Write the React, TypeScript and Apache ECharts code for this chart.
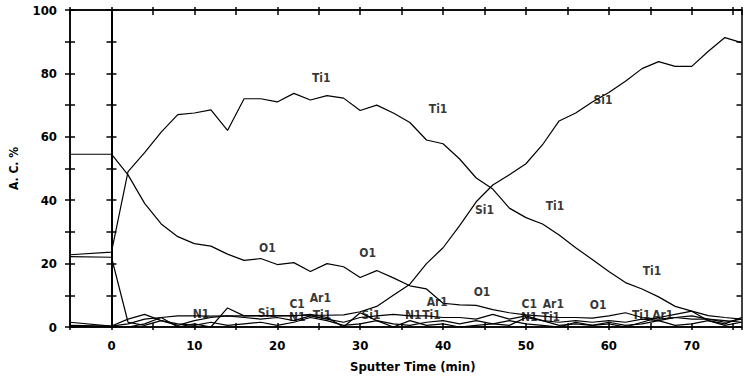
import React, { useEffect, useRef } from "react";
import * as echarts from "echarts";

const times = [-5, 0, 2, 4, 6, 8, 10, 12, 14, 16, 18, 20, 22, 24, 26, 28, 30, 32, 34, 36, 38, 40, 42, 44, 46, 48, 50, 52, 54, 56, 58, 60, 62, 64, 66, 68, 70, 72, 74, 76];

const tiValues = [22.8, 23.6, 49, 55, 61.5, 67, 67.5, 68.5, 62, 72, 72, 71, 73.7, 71.6, 73, 72.2, 68.3, 70, 67.5, 64.5, 59, 57.8, 53, 47, 43.5, 37.5, 34.5, 32.5, 29, 25, 21.3, 17.5, 14, 12, 9.5, 6.5, 5, 3.6, 3, 2.5];
const siValues = [0.5, 0.3, 1, 2.5, 3, 3.5, 3.5, 3.4, 3.5, 3.5, 3.6, 3.6, 3.6, 3.7, 3.7, 3.8, 4.8, 6.5, 10, 13.5, 20, 25, 32, 39.5, 44.8, 48, 51.5, 57.5, 65, 67.5, 71, 74, 77.5, 81.5, 83.7, 82.2, 82.2, 87, 91.3, 89.7];
const oValues = [54.5, 54.5, 48, 39, 32.5, 28.5, 26.3, 25.5, 23, 21, 21.6, 19.7, 20.3, 17.5, 20, 19, 15.6, 17.8, 15.5, 13, 12, 7.5, 7, 6.8, 5.5, 4.5, 3.8, 3.4, 3, 3, 2.8, 3.5, 4.5, 3, 2.5, 3, 3.5, 2.5, 2, 1.5];
const cValues = [22.2, 22, 1.5, 0.5, 2, 1, 0.5, 1.5, 0.5, 1, 1.5, 0.5, 1.5, 3, 2, 0.5, 1, 2, 1, 0.5, 1.5, 2, 1, 2, 1, 0.5, 3, 2, 0.5, 1, 0.5, 1.5, 0.5, 1, 2, 0.5, 1, 2, 0.5, 1.5];
const nValues = [1.5, 0.3, 2.5, 4, 2, 0.5, 2, 3, 3.5, 3, 2.5, 3, 2, 3.5, 2.5, 1.5, 3, 3.5, 4, 3.5, 3.5, 3, 3, 2.5, 4, 2.5, 3.5, 2, 1.5, 2, 1.5, 2, 1.5, 2.5, 2, 3, 2.5, 2.5, 1.5, 2.5];
const arValues = [0.2, 0, 0, 1, 3, 0, 1, 0, 6, 3.5, 3.5, 3.5, 3.5, 4, 3, 0, 4.5, 2, 0, 2, 0.5, 1, 0, 0.5, 1, 2, 1, 0.5, 0, 1.5, 0.5, 1, 0, 1.5, 3, 4, 5, 2, 1, 3];

const curveNames = ["Ti1", "Si1", "O1", "C1", "N1", "Ar1"];
const curveValues = [tiValues, siValues, oValues, cValues, nValues, arValues];

// curve annotations: [time, A.C.%, text]
const annotations: [number, number, string][] = [
  [25.3, 78.4, "Ti1"],
  [39.4, 68.8, "Ti1"],
  [59.3, 71.6, "Si1"],
  [45.0, 36.8, "Si1"],
  [53.5, 38.1, "Ti1"],
  [65.2, 17.8, "Ti1"],
  [18.8, 25, "O1"],
  [30.9, 23.2, "O1"],
  [44.7, 10.9, "O1"],
  [58.7, 6.9, "O1"],
  [10.8, 4.0, "N1"],
  [18.8, 4.4, "Si1"],
  [22.4, 7.2, "C1"],
  [22.4, 3.0, "N1"],
  [25.2, 9.0, "Ar1"],
  [25.4, 3.8, "Ti1"],
  [31.3, 3.8, "Si1"],
  [36.4, 3.8, "N1"],
  [38.6, 3.8, "Ti1"],
  [39.3, 7.8, "Ar1"],
  [50.4, 7.2, "C1"],
  [50.4, 3.0, "N1"],
  [53.3, 7.2, "Ar1"],
  [53.0, 3.0, "Ti1"],
  [63.9, 3.8, "Ti1"],
  [66.5, 3.8, "Ar1"],
];

const FONT = "'DejaVu Sans Condensed', 'Liberation Sans Narrow', 'Liberation Sans', sans-serif";

export default function App() {
  const ref = useRef<HTMLDivElement>(null);
  useEffect(() => {
    if (!ref.current) return;
    const chart = echarts.init(ref.current, undefined, { renderer: "svg" });
    const lineStyle = { color: "#000", width: 1.5 };
    const baseX = { type: "value", min: -5, max: 76, interval: 5, splitLine: { show: false } };
    const baseY = { type: "value", min: 0, max: 100, interval: 10, splitLine: { show: false } };
    const option: any = {
      animation: false,
      backgroundColor: "#fff",
      grid: { left: 69, right: 1.5, top: 10, bottom: 48 },
      xAxis: [
        {
          ...baseX,
          position: "bottom",
          axisLine: { onZero: false, lineStyle },
          axisTick: { inside: true, length: 4, lineStyle },
          axisLabel: {
            margin: 12,
            color: "#000",
            fontFamily: FONT,
            fontWeight: "bold",
            fontSize: 13,
            showMaxLabel: false,
            formatter: (v: number) => (v >= 0 && v % 10 === 0 ? String(v) : ""),
          },
          name: "Sputter Time (min)",
          nameLocation: "middle",
          nameGap: 33,
          nameTextStyle: { color: "#000", fontFamily: FONT, fontWeight: "bold", fontSize: 13, padding: [0, 0, 0, 14] },
        },
        { ...baseX, position: "bottom", axisLine: { onZero: false, lineStyle }, axisTick: { inside: false, length: 3, lineStyle }, axisLabel: { show: false } },
        { ...baseX, position: "top", axisLine: { onZero: false, lineStyle }, axisTick: { inside: true, length: 5, lineStyle }, axisLabel: { show: false } },
        { ...baseX, position: "top", axisLine: { onZero: false, lineStyle }, axisTick: { inside: false, length: 3, lineStyle }, axisLabel: { show: false } },
      ],
      yAxis: [
        {
          ...baseY,
          position: "left",
          axisLine: { onZero: false, lineStyle },
          axisTick: { inside: true, length: 5, lineStyle },
          axisLabel: {
            margin: 13,
            color: "#000",
            fontFamily: FONT,
            fontWeight: "bold",
            fontSize: 13,
            formatter: (v: number) => (v % 20 === 0 ? String(v) : ""),
          },
          name: "A. C. %",
          nameLocation: "middle",
          nameGap: 50,
          nameTextStyle: { color: "#000", fontFamily: FONT, fontWeight: "bold", fontSize: 12 },
        },
        { ...baseY, position: "left", axisLine: { onZero: false, lineStyle }, axisTick: { inside: false, length: 5, lineStyle }, axisLabel: { show: false } },
        { ...baseY, position: "left", axisLine: { onZero: true, onZeroAxisIndex: 0, lineStyle: { color: "#000", width: 2 } }, axisTick: { inside: true, length: 5, lineStyle }, axisLabel: { show: false } },
        { ...baseY, position: "left", axisLine: { onZero: true, onZeroAxisIndex: 0, lineStyle: { color: "#000", width: 2 } }, axisTick: { inside: false, length: 5, lineStyle }, axisLabel: { show: false } },
        { ...baseY, position: "right", axisLine: { onZero: false, lineStyle }, axisTick: { inside: true, length: 5, lineStyle }, axisLabel: { show: false } },
      ],
      series: [
        ...curveNames.map((name, i) => ({
          name,
          type: "line",
          xAxisIndex: 0,
          yAxisIndex: 0,
          showSymbol: false,
          symbol: "none",
          lineStyle: { color: "#000", width: 1.2 },
          data: times.map((t, j) => [t, curveValues[i][j]]),
          z: 3,
        })),
        {
          name: "labels",
          type: "scatter",
          xAxisIndex: 0,
          yAxisIndex: 0,
          symbolSize: 0,
          silent: true,
          data: annotations.map((a) => [a[0], a[1], a[2]]),
          label: {
            show: true,
            position: "inside",
            formatter: (p: any) => p.data[2],
            color: "#000",
            fontFamily: FONT,
            fontWeight: "bold",
            fontSize: 12,
          },
          labelLayout: { hideOverlap: false },
          z: 5,
        },
      ],
    };
    chart.setOption(option);
    return () => chart.dispose();
  }, []);
  return <div ref={ref} style={{ position: "absolute", left: 0, top: 0, width: 743, height: 378 }} />;
}
